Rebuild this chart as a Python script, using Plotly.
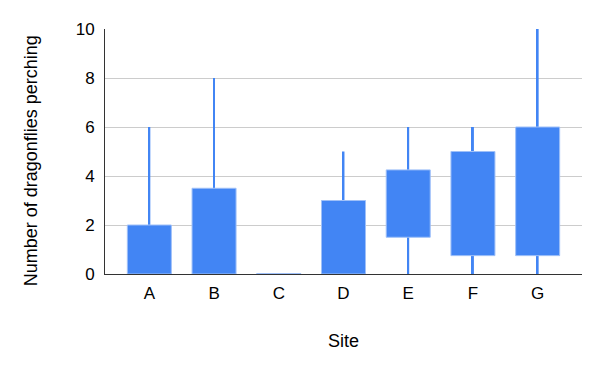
import plotly.graph_objects as go

# Data
sites = ["A", "B", "C", "D", "E", "F", "G"]
whisker_low = [0, 0, 0, 0, 0, 0, 0]
box_low = [0, 0, 0, 0, 1.5, 0.75, 0.75]
box_high = [2, 3.5, 0, 3, 4.25, 5, 6]
whisker_high = [6, 8, 0, 5, 6, 6, 10]

y_ticks = [0, 2, 4, 6, 8, 10]

BLUE = "#4285F4"
FONT = "Liberation Sans, Arial, sans-serif"

fig = go.Figure()

# whiskers (min to max)
fig.add_trace(go.Bar(
    x=sites,
    base=whisker_low,
    y=[h - l for h, l in zip(whisker_high, whisker_low)],
    width=0.03,
    marker=dict(color=BLUE, line=dict(width=0)),
    hoverinfo="skip",
    showlegend=False,
))

# boxes (low to high); zero-height boxes get a hairline so they remain visible
fig.add_trace(go.Bar(
    x=sites,
    base=box_low,
    y=[max(h - l, 0.02) for h, l in zip(box_high, box_low)],
    width=0.68,
    marker=dict(color=BLUE, line=dict(color="#9fc0f8", width=1)),
    showlegend=False,
))

# the page body adds an 8px offset, so the figure is 8px smaller and margins shifted
fig.update_layout(
    width=592,
    height=363,
    margin=dict(l=97, r=18, t=21, b=97),
    paper_bgcolor="white",
    plot_bgcolor="white",
    barmode="overlay",
    font=dict(family=FONT, size=17, color="#000000"),
    showlegend=False,
    annotations=[dict(
        text="Number of dragonflies perching",
        textangle=-90,
        xref="paper", yref="paper",
        x=-0.155, y=0.46,
        xanchor="center", yanchor="middle",
        showarrow=False,
        font=dict(family=FONT, size=18, color="#000000"),
    )],
)

fig.update_xaxes(
    type="category",
    range=[-0.685, 6.685],
    showgrid=False,
    showline=True,
    linecolor="#333333",
    linewidth=1,
    ticks="",
    ticklabelstandoff=4,
    tickfont=dict(family=FONT, size=17, color="#000000"),
    title=dict(text="Site", font=dict(family=FONT, size=18, color="#000000"), standoff=31),
    automargin=False,
)

fig.update_yaxes(
    range=[0, 10],
    tickvals=y_ticks,
    ticktext=[str(v) for v in y_ticks],
    showgrid=True,
    gridcolor="#cccccc",
    gridwidth=1,
    zeroline=False,
    showline=True,
    linecolor="#333333",
    linewidth=1,
    ticks="",
    ticklabelstandoff=6,
    tickfont=dict(family=FONT, size=17, color="#000000"),
    automargin=False,
)

fig.write_html("out.html")
